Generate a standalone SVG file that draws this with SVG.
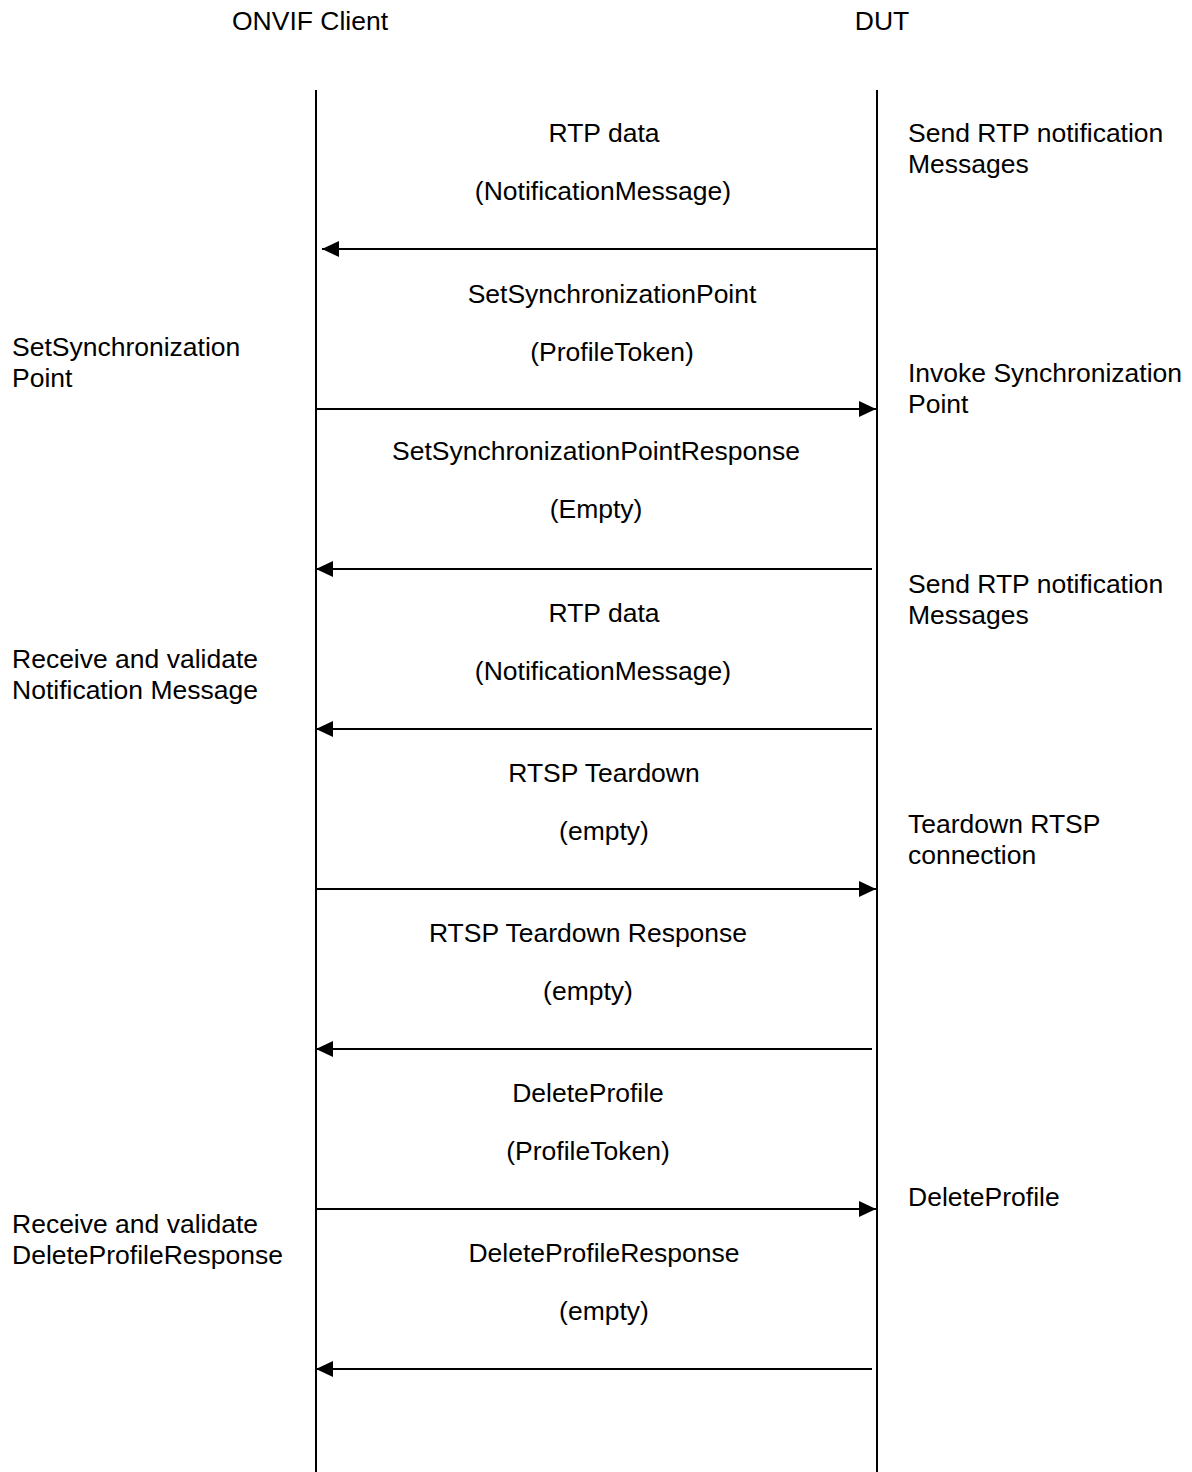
<svg xmlns="http://www.w3.org/2000/svg" width="1192" height="1472" viewBox="0 0 1192 1472">
<style>
text{font-family:"Liberation Sans",Arial,sans-serif;font-size:26.5px;fill:#000}
.c{text-anchor:middle}
.life{stroke:#000;stroke-width:2;fill:none}
.msg{stroke:#000;stroke-width:2;fill:none;marker-end:url(#ah)}
</style>
<defs>
<marker id="ah" markerUnits="userSpaceOnUse" markerWidth="18" markerHeight="17" refX="17" refY="8" orient="auto">
<path d="M0,0 L17,8 L0,16 z" fill="#000"/>
</marker>
</defs>
<rect width="1192" height="1472" fill="#fff"/>
<g id="client">
<text x="232" y="30">ONVIF Client</text>
<line class="life" x1="316" y1="90" x2="316" y2="1472"/>
</g>
<g id="dut">
<text x="882" y="30" class="c">DUT</text>
<line class="life" x1="877" y1="90" x2="877" y2="1472"/>
</g>
<g id="connectors">
<line class="msg" x1="877" y1="249" x2="322" y2="249"/>
<line class="msg" x1="316" y1="409" x2="876" y2="409"/>
<line class="msg" x1="872" y1="569" x2="316" y2="569"/>
<line class="msg" x1="872" y1="729" x2="316" y2="729"/>
<line class="msg" x1="316" y1="889" x2="876" y2="889"/>
<line class="msg" x1="872" y1="1049" x2="316" y2="1049"/>
<line class="msg" x1="316" y1="1209" x2="876" y2="1209"/>
<line class="msg" x1="872" y1="1369" x2="316" y2="1369"/>
</g>
<g id="labels">
<text x="604" y="142" class="c">RTP data</text>
<text x="603" y="200" class="c">(NotificationMessage)</text>
<text x="612" y="303" class="c">SetSynchronizationPoint</text>
<text x="612" y="361" class="c">(ProfileToken)</text>
<text x="596" y="460" class="c">SetSynchronizationPointResponse</text>
<text x="596" y="518" class="c">(Empty)</text>
<text x="604" y="622" class="c">RTP data</text>
<text x="603" y="680" class="c">(NotificationMessage)</text>
<text x="604" y="782" class="c">RTSP Teardown</text>
<text x="604" y="840" class="c">(empty)</text>
<text x="588" y="942" class="c">RTSP Teardown Response</text>
<text x="588" y="1000" class="c">(empty)</text>
<text x="588" y="1102" class="c">DeleteProfile</text>
<text x="588" y="1160" class="c">(ProfileToken)</text>
<text x="604" y="1262" class="c">DeleteProfileResponse</text>
<text x="604" y="1320" class="c">(empty)</text>
</g>
<g id="client-notes">
<text x="12" y="356">SetSynchronization</text>
<text x="12" y="387">Point</text>
<text x="12" y="668">Receive and validate</text>
<text x="12" y="699">Notification Message</text>
<text x="12" y="1233">Receive and validate</text>
<text x="12" y="1264">DeleteProfileResponse</text>
</g>
<g id="dut-notes">
<text x="908" y="142">Send RTP notification</text>
<text x="908" y="173">Messages</text>
<text x="908" y="382">Invoke Synchronization</text>
<text x="908" y="413">Point</text>
<text x="908" y="593">Send RTP notification</text>
<text x="908" y="624">Messages</text>
<text x="908" y="833">Teardown RTSP</text>
<text x="908" y="864">connection</text>
<text x="908" y="1206">DeleteProfile</text>
</g>
</svg>
